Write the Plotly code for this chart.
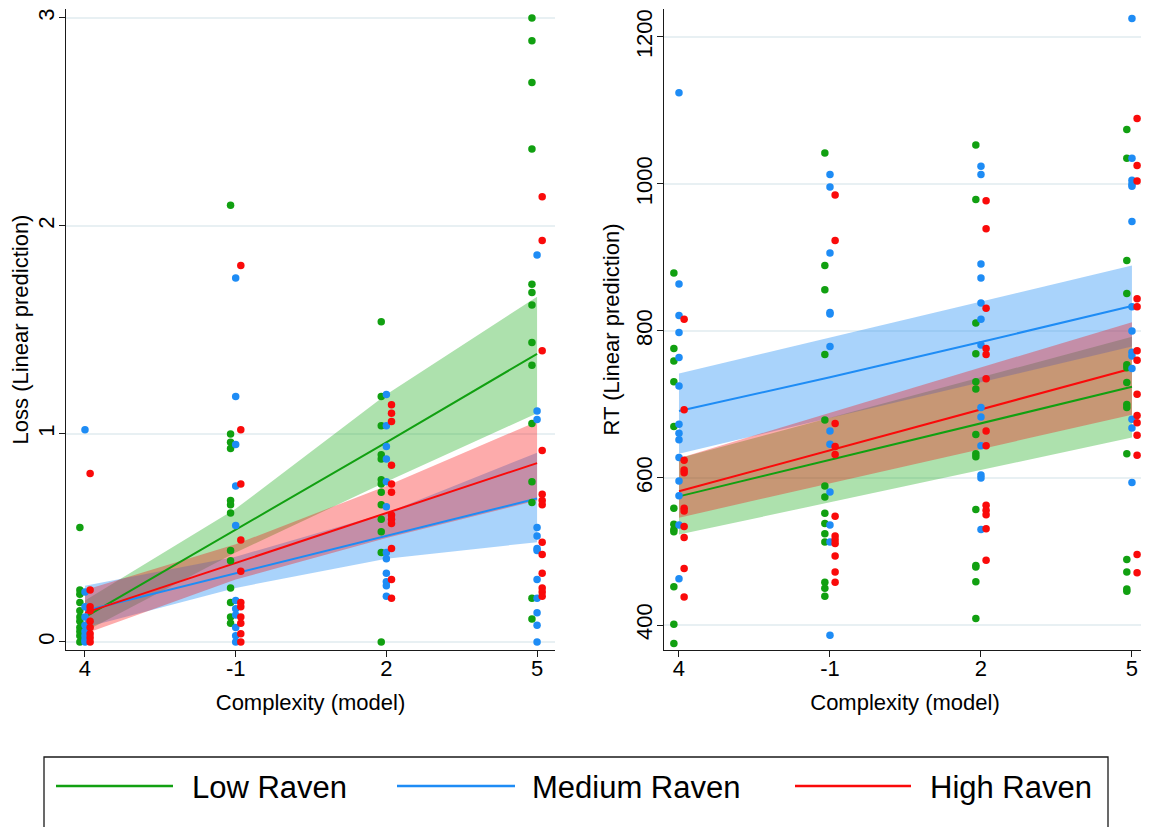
import plotly.graph_objects as go

# ---------------- data ----------------
categories = ["4", "-1", "2", "5"]
groups = ["Low Raven", "Medium Raven", "High Raven"]

# Loss: observed points per category (order of categories above)
loss_low = [
    [0.55, 0.25, 0.23, 0.19, 0.15, 0.12, 0.10, 0.07, 0.05, 0.03, 0.0],
    [2.10, 1.00, 0.96, 0.93, 0.68, 0.66, 0.62, 0.44, 0.39, 0.26, 0.19, 0.12, 0.09],
    [1.54, 1.18, 1.04, 0.90, 0.88, 0.78, 0.76, 0.72, 0.66, 0.59, 0.53, 0.43, 0.0],
    [3.0, 2.89, 2.69, 2.37, 1.72, 1.68, 1.62, 1.44, 1.33, 1.05, 0.77, 0.67, 0.21, 0.11],
]
loss_med = [
    [1.02, 0.24, 0.17, 0.12, 0.08, 0.05, 0.03, 0.01, 0.0],
    [1.75, 1.18, 0.95, 0.75, 0.56, 0.20, 0.16, 0.13, 0.07, 0.03, 0.0],
    [1.19, 1.04, 0.94, 0.88, 0.77, 0.65, 0.43, 0.40, 0.33, 0.29, 0.27, 0.22],
    [1.86, 1.11, 1.07, 0.55, 0.51, 0.45, 0.44, 0.30, 0.21, 0.14, 0.08, 0.0],
]
loss_high = [
    [0.81, 0.25, 0.17, 0.15, 0.10, 0.07, 0.04, 0.02, 0.0],
    [1.81, 1.02, 0.76, 0.49, 0.34, 0.19, 0.17, 0.12, 0.09, 0.04, 0.0],
    [1.14, 1.10, 1.06, 0.85, 0.76, 0.72, 0.61, 0.59, 0.57, 0.45, 0.30, 0.21],
    [2.14, 1.93, 1.40, 0.92, 0.71, 0.68, 0.66, 0.48, 0.42, 0.33, 0.26, 0.24, 0.22],
]

# Loss: linear predictions and confidence limits
loss_fit_low = [0.12, 0.54, 0.96, 1.385]
loss_lo_low = [0.05, 0.43, 0.77, 1.10]
loss_hi_low = [0.20, 0.64, 1.19, 1.66]
loss_fit_med = [0.15, 0.33, 0.51, 0.69]
loss_lo_med = [0.07, 0.26, 0.40, 0.48]
loss_hi_med = [0.27, 0.41, 0.62, 0.91]
loss_fit_high = [0.14, 0.38, 0.62, 0.86]
loss_lo_high = [0.04, 0.30, 0.50, 0.68]
loss_hi_high = [0.25, 0.47, 0.75, 1.06]

# RT: observed points per category
rt_low = [
    [879, 776, 759, 731, 670, 559, 537, 530, 527, 452, 401, 375],
    [1042, 889, 856, 768, 679, 589, 574, 552, 538, 524, 513, 458, 450, 439],
    [1053, 979, 811, 769, 731, 721, 659, 633, 629, 557, 481, 479, 459, 409],
    [1074, 1035, 896, 851, 754, 750, 730, 700, 696, 633, 489, 472, 449, 446],
]
rt_med = [
    [1124, 864, 821, 798, 764, 725, 673, 661, 652, 628, 596, 576, 536, 463],
    [1013, 996, 906, 825, 823, 779, 664, 646, 581, 536, 513, 386],
    [1024, 1013, 891, 872, 838, 816, 781, 696, 683, 644, 604, 600, 530],
    [1225, 1035, 1005, 1000, 997, 949, 833, 800, 771, 766, 749, 680, 668, 594],
]
rt_high = [
    [816, 693, 624, 611, 607, 559, 555, 534, 519, 477, 438],
    [985, 923, 674, 643, 632, 548, 521, 516, 511, 494, 472, 458],
    [977, 939, 831, 776, 768, 735, 664, 644, 563, 556, 550, 531, 488],
    [1089, 1025, 1004, 844, 833, 773, 760, 714, 685, 675, 658, 631, 496, 471],
]

# RT: linear predictions and confidence limits
rt_fit_low = [575, 625, 675, 724]
rt_lo_low = [523, 567, 611, 655]
rt_hi_low = [627, 682, 737, 792]
rt_fit_med = [691, 737, 785, 834]
rt_lo_med = [633, 682, 730, 779]
rt_hi_med = [742, 791, 840, 889]
rt_fit_high = [582, 638, 693, 749]
rt_lo_high = [546, 593, 640, 686]
rt_hi_high = [627, 689, 750, 812]

# ---------------- style ----------------
FONT = "Liberation Sans, Arial, sans-serif"
colors = {"Low Raven": "#11a011", "Medium Raven": "#1e8cf5", "High Raven": "#fa0a0a"}
fills = {"Low Raven": "rgba(20,170,20,0.35)",
         "Medium Raven": "rgba(30,140,245,0.38)",
         "High Raven": "rgba(250,10,10,0.34)"}
offsets = {"Low Raven": -0.034, "Medium Raven": 0.0, "High Raven": 0.034}

# the page body has an 8px margin: work in screen pixels, convert to paper
OFF = 8
W, H = 1149 - OFF, 827 - OFF


def px(x):
    return (x - OFF) / W


def py(y):
    return 1 - (y - OFF) / H


fig = go.Figure()
xpos = list(range(len(categories)))

panels = [
    ("x", "y", {"Low Raven": loss_low, "Medium Raven": loss_med, "High Raven": loss_high},
     {"Low Raven": (loss_fit_low, loss_lo_low, loss_hi_low),
      "Medium Raven": (loss_fit_med, loss_lo_med, loss_hi_med),
      "High Raven": (loss_fit_high, loss_lo_high, loss_hi_high)}),
    ("x2", "y2", {"Low Raven": rt_low, "Medium Raven": rt_med, "High Raven": rt_high},
     {"Low Raven": (rt_fit_low, rt_lo_low, rt_hi_low),
      "Medium Raven": (rt_fit_med, rt_lo_med, rt_hi_med),
      "High Raven": (rt_fit_high, rt_lo_high, rt_hi_high)}),
]

for xa, ya, pts, fits in panels:
    # confidence bands
    for g in groups:
        fit, lo, hi = fits[g]
        fig.add_trace(go.Scatter(x=xpos, y=lo, xaxis=xa, yaxis=ya, mode="lines",
                                 line=dict(width=0), showlegend=False, hoverinfo="skip"))
        fig.add_trace(go.Scatter(x=xpos, y=hi, xaxis=xa, yaxis=ya, mode="lines",
                                 line=dict(width=0), fill="tonexty", fillcolor=fills[g],
                                 showlegend=False, hoverinfo="skip"))
    # fitted lines
    for g in groups:
        fit, lo, hi = fits[g]
        fig.add_trace(go.Scatter(x=xpos, y=fit, xaxis=xa, yaxis=ya, mode="lines",
                                 line=dict(color=colors[g], width=2), name=g,
                                 showlegend=False))
    # observed points
    for g in groups:
        xs, ys = [], []
        for i, vals in enumerate(pts[g]):
            for v in vals:
                xs.append(i + offsets[g])
                ys.append(v)
        fig.add_trace(go.Scatter(x=xs, y=ys, xaxis=xa, yaxis=ya, mode="markers",
                                 marker=dict(color=colors[g], size=7.5, line=dict(width=0)),
                                 showlegend=False))

axis_common = dict(showline=True, linecolor="#1a1a1a", linewidth=1.3, ticks="outside",
                   ticklen=6, tickwidth=1.3, tickcolor="#1a1a1a",
                   tickfont=dict(family=FONT, size=22, color="black"), zeroline=False)
xtitle = dict(text="Complexity (model)", font=dict(family=FONT, size=22), standoff=15)

fig.update_layout(
    width=W, height=H, margin=dict(l=0, r=0, t=0, b=0),
    paper_bgcolor="white", plot_bgcolor="white", showlegend=False,
    font=dict(family=FONT, color="black"),
    xaxis=dict(domain=[px(66), px(555)], range=[-0.126, 3.119], tickvals=xpos,
               ticktext=categories, showgrid=False, anchor="y", ticklabelstandoff=-8,
               title=xtitle, **axis_common),
    yaxis=dict(domain=[py(650), py(9)], range=[-0.0385, 3.043], tickvals=[0, 1, 2, 3],
               tickangle=-90, showgrid=True, gridcolor="#e8f0f3", gridwidth=1.5, anchor="x",
               ticklabelstandoff=-4,
               title=dict(text="Loss (Linear prediction)", font=dict(family=FONT, size=22), standoff=6),
               **axis_common),
    xaxis2=dict(domain=[px(664), px(1146)], range=[-0.0993, 3.093], tickvals=xpos,
                ticktext=categories, showgrid=False, anchor="y2", ticklabelstandoff=-8,
                title=xtitle, **axis_common),
    yaxis2=dict(domain=[py(650), py(9)], range=[366, 1238], tickvals=[400, 600, 800, 1000, 1200],
                tickangle=-90, showgrid=True, gridcolor="#e8f0f3", gridwidth=1.5, anchor="x2",
                ticklabelstandoff=-4,
                title=dict(text="RT (Linear prediction)", font=dict(family=FONT, size=22), standoff=6),
                **axis_common),
)

# ---------------- legend (box, keys, labels) ----------------
fig.add_shape(type="rect", xref="paper", yref="paper", x0=px(44), x1=px(1108),
              y0=py(845), y1=py(757), line=dict(color="#1a1a1a", width=1.3),
              fillcolor="rgba(0,0,0,0)")
legend_keys = [(56, 173, 190), (397, 515, 530), (795, 911, 928)]
for g, (l0, l1, tx) in zip(groups, legend_keys):
    fig.add_shape(type="line", xref="paper", yref="paper", x0=px(l0), x1=px(l1),
                  y0=py(786), y1=py(786), line=dict(color=colors[g], width=2.5))
    fig.add_annotation(text=g, xref="paper", yref="paper", x=px(tx), y=py(787),
                       xanchor="left", yanchor="middle", showarrow=False,
                       font=dict(family=FONT, size=31, color="black"))

fig.write_html("out.html")
